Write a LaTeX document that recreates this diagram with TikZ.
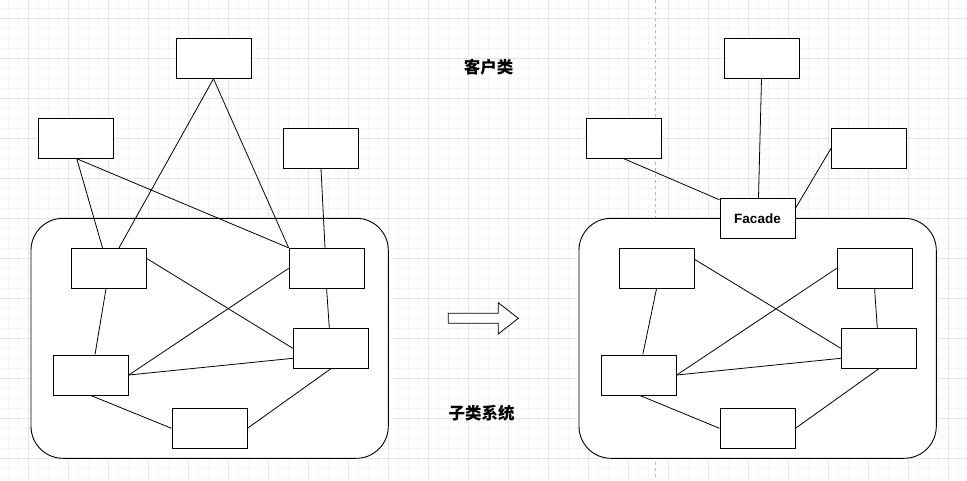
\documentclass[tikz,border=0pt]{standalone}
\usepackage{fontspec}
\setmainfont{Liberation Sans}
\newfontfamily\cjk{Noto Sans CJK SC}
\usetikzlibrary{calc}
\tikzset{
  cls/.style={draw=black, fill=white, line width=0.9pt, minimum width=75pt, minimum height=40pt, inner sep=0pt},
  link/.style={draw=black, line width=0.8pt},
  group/.style={draw=black, fill=white, line width=0.9pt, rounded corners=32pt},
  caption/.style={font=\cjk\bfseries\fontsize{16.5}{18}\selectfont, inner sep=0pt},
  facade/.style={cls, font=\bfseries\fontsize{13.5}{15}\selectfont},
}
\begin{document}
\begin{tikzpicture}[x=1pt, y=-1pt]
  \useasboundingbox (0,0) rectangle (967,480);
  % page grid
  \fill[white] (0,0) rectangle (967,480);
  \foreach \x in {-1.7,8.3,...,967} \draw[color=black!3.5, line width=0.6pt] (\x,0) -- (\x,480);
  \foreach \y in {-1.7,8.3,...,480} \draw[color=black!3.5, line width=0.6pt] (0,\y) -- (967,\y);
  \foreach \x in {28.3,68.3,...,967} \draw[color=black!10, line width=0.7pt] (\x,0) -- (\x,480);
  \foreach \y in {18.3,58.3,...,480} \draw[color=black!10, line width=0.7pt] (0,\y) -- (967,\y);
  % page break
  \draw[color=black!28, line width=0.7pt, dash pattern=on 3pt off 3pt] (655.5,0) -- (655.5,480);

  % ---------- without facade ----------
  \draw[group] (31,218.3) rectangle (388.3,458.3);
  \node[cls] (lt) at (213.5,58.3) {};
  \node[cls] (la) at (75.8,138.3) {};
  \node[cls] (lb) at (321,148.3) {};
  \node[cls] (l1) at (108.5,268.3) {};
  \node[cls] (l2) at (326.6,268.3) {};
  \node[cls] (l3) at (330.8,348.3) {};
  \node[cls] (l4) at (90.8,375) {};
  \node[cls] (l5) at (209.5,428.3) {};

  \draw[link] (lt.south) -- ([xshift=10.5pt]l1.north);
  \draw[link] (lt.south) -- (l2.north west);
  \draw[link] ([xshift=1pt]la.south) -- ([xshift=-6pt]l1.north);
  \draw[link] ([xshift=1pt]la.south) -- (l2.north west);
  \draw[link] (lb.south) -- ([xshift=-1.6pt]l2.north);
  \draw[link] ([yshift=10pt]l1.east) -- (l3.west);
  \draw[link] ([xshift=-2.5pt]l1.south) -- ([xshift=4.2pt]l4.north);
  \draw[link] (l2.west) -- (l4.east);
  \draw[link] (l2.south) -- ([xshift=-1.5pt]l3.north);
  \draw[link] (l4.east) -- ([yshift=-10pt]l3.west);
  \draw[link] (l4.south) -- (l5.west);
  \draw[link] (l5.east) -- (l3.south);

  % ---------- with facade ----------
  \draw[group] (579,218.3) rectangle (936.3,458.3);
  \node[cls] (rt) at (761.5,58.3) {};
  \node[cls] (ra) at (624,138.3) {};
  \node[cls] (rb) at (869,148.3) {};
  \node[cls] (r1) at (656.5,268.3) {};
  \node[cls] (r2) at (874.6,268.3) {};
  \node[cls] (r3) at (878.8,348.3) {};
  \node[cls] (r4) at (638.8,375) {};
  \node[cls] (r5) at (757.5,428.3) {};
  \node[facade] (fc) at (757.5,218.3) {Facade};

  \draw[link] (ra.south) -- ([yshift=-2pt]fc.north west);
  \draw[link] (rt.south) -- ([xshift=1pt]fc.north);
  \draw[link] (rb.west) -- ([yshift=10pt]fc.east);
  \draw[link] ([yshift=9pt]r1.east) -- (r3.west);
  \draw[link] (r1.south) -- ([xshift=4pt]r4.north);
  \draw[link] (r2.west) -- (r4.east);
  \draw[link] (r2.south) -- ([xshift=-1.5pt]r3.north);
  \draw[link] (r4.east) -- ([yshift=-10pt]r3.west);
  \draw[link] ([xshift=1pt]r4.south) -- (r5.west);
  \draw[link] (r5.east) -- (r3.south);

  % ---------- labels and transition arrow ----------
  \node[caption] (client) at (488.5,67.5) {客户类};
  \node[caption] (subsys) at (481.7,413.5) {子类系统};
  \draw[fill=white, line width=0.8pt, line join=miter]
    (448.3,313.3) -- (498.3,313.3) -- (498.3,302.7) -- (518.3,318.3)
    -- (498.3,334) -- (498.3,323.3) -- (448.3,323.3) -- cycle;
\end{tikzpicture}
\end{document}
